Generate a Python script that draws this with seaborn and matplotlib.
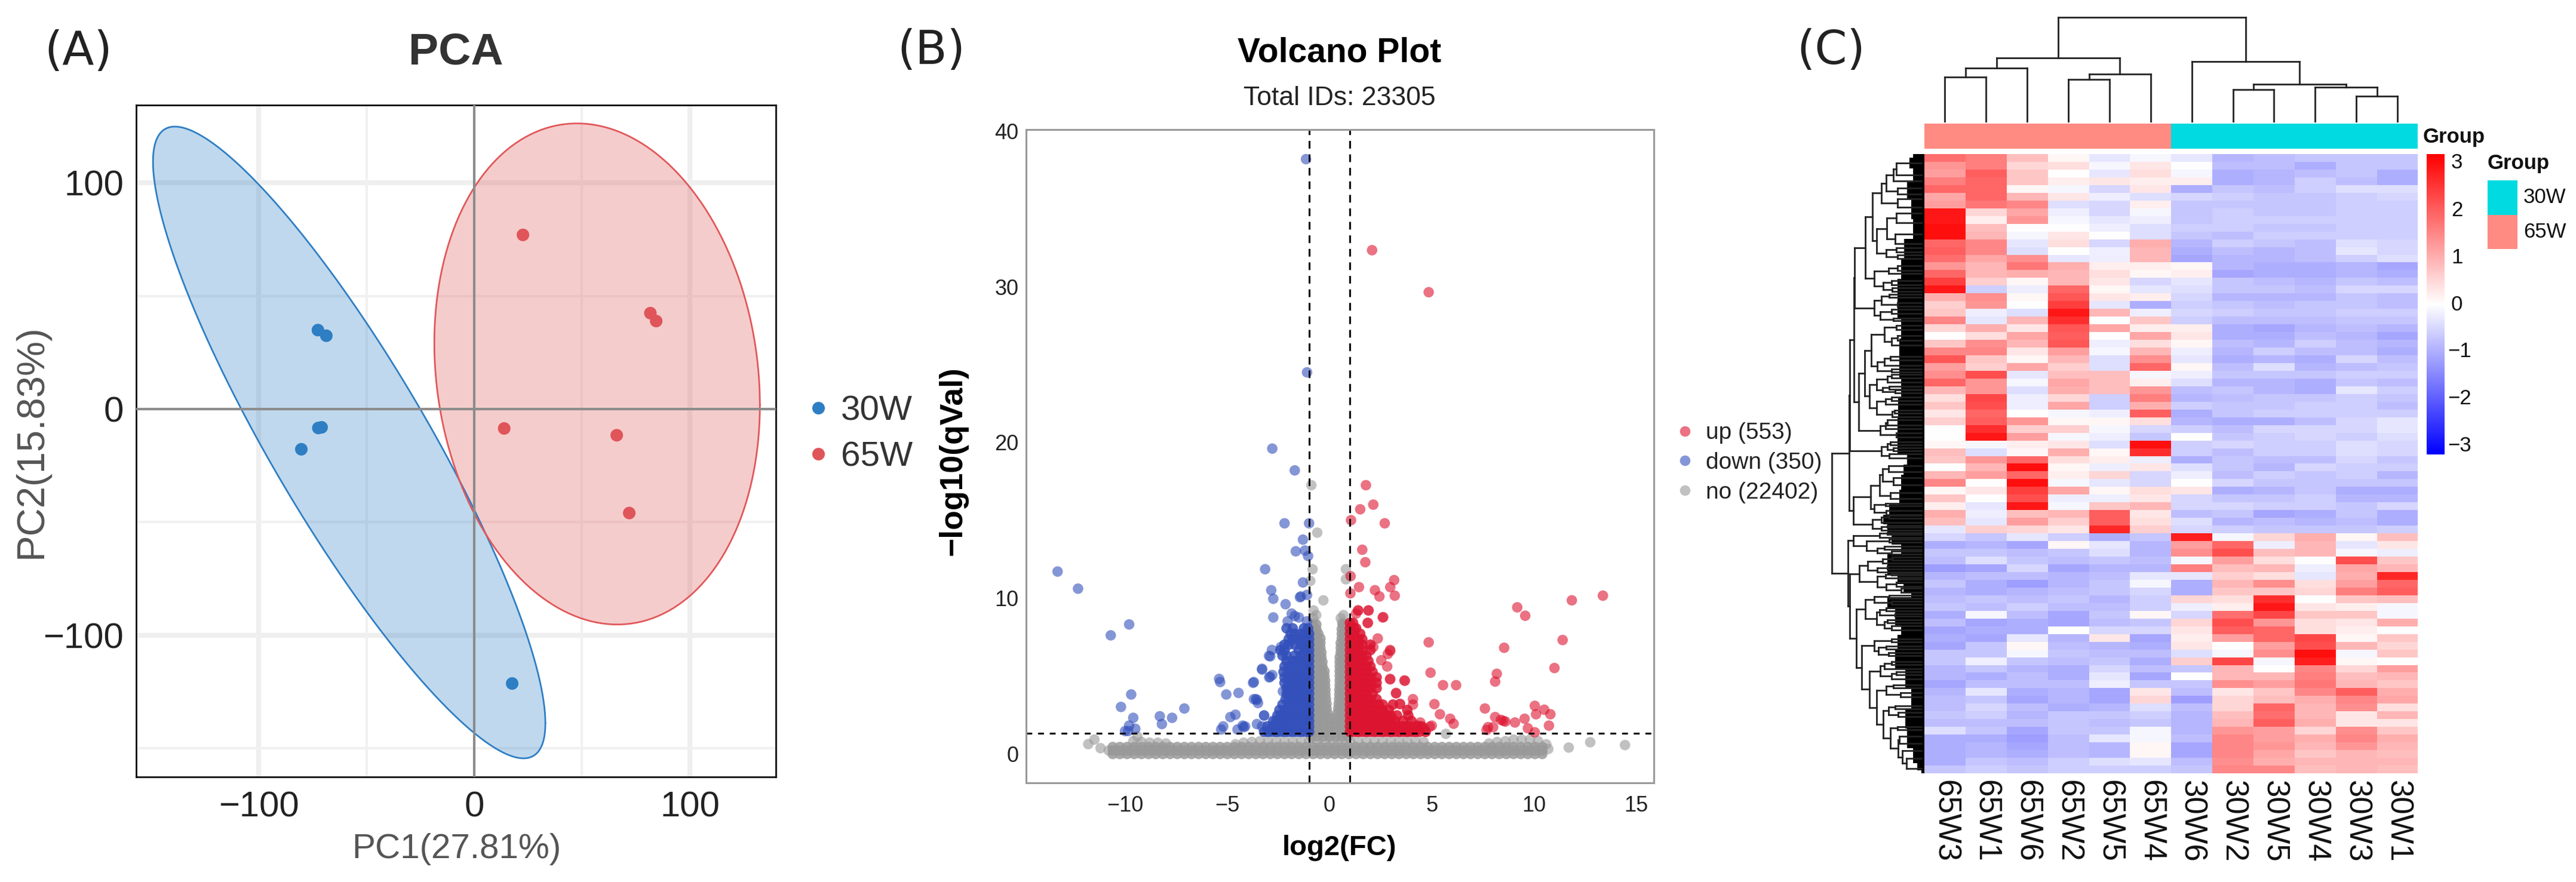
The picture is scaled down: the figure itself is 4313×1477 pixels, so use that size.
"""Three panel figure: PCA scatter, volcano plot and clustered heatmap."""

import matplotlib

matplotlib.use("Agg")
import matplotlib.pyplot as plt
import numpy as np
import pandas as pd
import seaborn as sns
from matplotlib.colors import LinearSegmentedColormap, ListedColormap

W, H = 4313, 1477
PLAIN = ["Liberation Sans"]

# ---- Panel A: PCA scores
pca_30w_x = [-72.5, -68.6, -72.3, -70.8, -80.2, 17.6]
pca_30w_y = [34.9, 32.4, -8.4, -8.1, -17.8, -121.4]
pca_65w_x = [22.6, 81.7, 84.4, 13.9, 66.1, 71.9]
pca_65w_y = [77.0, 42.4, 38.9, -8.6, -11.6, -46.0]
# centre x, half width, centre y, half height, phase between x and y (degrees)
ellipse_30w = [-58.0, 91.0, -14.8, 139.7, 152.7]
ellipse_65w = [57.0, 75.5, 15.5, 110.8, 97.1]

# ---- Panel B: volcano points
down_points = [
    (-13.3, 11.7), (-12.3, 10.6), (-10.7, 7.6), (-9.8, 8.3), (-9.7, 3.8), (-10.2, 3.0), (-9.6, 2.3),
    (-9.8, 1.8), (-9.5, 1.6), (-10.0, 1.45), (-9.85, 1.45), (-8.3, 2.4), (-8.2, 1.9), (-7.7, 2.3),
    (-7.1, 2.9), (-5.4, 4.8), (-5.35, 4.6), (-5.05, 3.8), (-4.45, 3.9), (-3.7, 4.6), (-5.3, 1.55),
    (-5.2, 1.75), (-4.85, 2.35), (-4.6, 2.5), (-4.5, 1.55), (-4.25, 1.8), (-4.2, 1.7), (-3.7, 3.5),
    (-3.55, 3.45), (-3.5, 3.25), (-3.3, 5.4), (-2.9, 6.25), (-2.8, 5.05), (-2.95, 4.9), (-3.2, 2.45),
    (-3.55, 1.9), (-3.3, 1.75), (-3.15, 11.85), (-2.85, 10.5), (-2.75, 9.95), (-2.8, 19.6), (-1.7, 18.2),
    (-2.2, 14.8), (-1.0, 14.8), (-1.3, 13.75), (-1.65, 13.0), (-1.2, 13.05), (-1.05, 12.7), (-1.3, 11.0),
    (-1.15, 38.2), (-1.1, 24.5), (-2.75, 8.75), (-2.15, 9.6), (-1.4, 10.1), (-1.1, 10.2), (-1.45, 10.05),
    (-2.05, 8.5), (-1.85, 9.0), (-1.5, 8.75), (-1.1, 8.5), (-1.7, 8.84), (-2.96, 6.28), (-2.82, 6.66),
    (-3.3, 5.45), (-2.91, 4.94), (-3.74, 4.55), (-3.6, 3.5), (-3.2, 2.45), (-4.13, 1.75), (-2.28, 4.0),
    (-2.38, 6.85),
]
down_rows_y = [1.4, 1.75, 2.1, 2.45, 2.8, 3.15, 3.5, 3.85, 4.2, 4.55, 4.9, 5.25, 5.6, 5.95, 6.3, 6.65, 7.0, 7.35, 7.7, 8.05]
down_rows_x = [
    [-1, -1.2, -1.4, -1.6, -1.8, -2, -2.2, -2.4, -2.6, -2.8, -3, -3.2],
    [-1, -1.2, -1.4, -1.6, -1.8, -2, -2.2, -2.4, -2.6, -2.8, -3.05],
    [-1, -1.2, -1.4, -1.6, -1.8, -2, -2.2, -2.4, -2.6, -2.75],
    [-1, -1.2, -1.4, -1.6, -1.8, -2, -2.2, -2.4, -2.55],
    [-1, -1.2, -1.4, -1.6, -1.8, -2, -2.2, -2.45],
    [-1, -1.2, -1.4, -1.6, -1.8, -2, -2.3],
    [-1, -1.2, -1.4, -1.6, -1.8, -2, -2.15],
    [-1, -1.2, -1.4, -1.6, -1.8, -2, -2.1],
    [-1, -1.2, -1.4, -1.6, -1.8, -2, -2.1],
    [-1, -1.2, -1.4, -1.6, -1.8, -2, -2.2],
    [-1, -1.2, -1.4, -1.6, -1.8, -2, -2.2],
    [-1, -1.2, -1.4, -1.6, -1.8, -2, -2.25],
    [-1, -1.2, -1.4, -1.6, -1.8, -2, -2.2],
    [-1, -1.2, -1.4, -1.6, -1.8, -2.1],
    [-1, -1.2, -1.4, -1.7, -2.1, -2.3],
    [-1, -1.2, -1.5, -2.2, -2.4],
    [-1, -1.2, -1.4, -1.7, -2, -2.2],
    [-1, -1.2, -1.4, -1.6, -1.8, -2],
    [-1, -1.2, -1.4, -1.7, -1.9],
    [-1.05, -1.25, -1.8, -2.1],
]
up_points = [
    (2.08, 32.35), (4.85, 29.65), (1.78, 17.25), (1.5, 15.7), (2.14, 16.0), (1.05, 15.0), (2.7, 14.8),
    (1.6, 13.1), (1.75, 12.3), (1.03, 11.4), (1.44, 10.7), (1.02, 10.3), (2.22, 10.5), (2.44, 10.1),
    (2.97, 10.7), (3.16, 11.15), (3.19, 10.15), (13.37, 10.15), (11.85, 9.85), (9.18, 9.4), (9.57, 8.86),
    (11.4, 7.3), (8.54, 6.8), (4.85, 7.15), (11.0, 5.5), (8.18, 5.13), (8.1, 4.63), (4.94, 5.2), (5.55, 4.4),
    (6.19, 4.4), (3.66, 4.7), (2.97, 4.77), (2.6, 8.75), (1.91, 9.2), (1.39, 9.2), (1.3, 9.0), (1.86, 8.4),
    (2.36, 7.4), (2.97, 6.6), (2.85, 6.4), (3.25, 3.87), (4.08, 3.5), (4.08, 3.15), (3.44, 3.18), (5.13, 3.18),
    (5.4, 2.53), (5.9, 2.24), (6.07, 1.92), (7.6, 2.9), (7.68, 1.52), (8.0, 1.7), (8.1, 2.35), (8.38, 2.17),
    (8.5, 2.1), (8.6, 2.06), (9.07, 2.0), (9.54, 2.24), (9.7, 1.63), (10.04, 1.37), (10.04, 3.07), (10.1, 2.53),
    (10.5, 2.82), (10.8, 2.53), (10.73, 1.8), (4.44, 2.0), (4.63, 1.63), (4.9, 1.73), (3.94, 1.45), (4.3, 1.8),
    (1.9, 9.2), (1.41, 9.2), (1.88, 8.4), (2.63, 8.77), (2.14, 6.85), (2.96, 6.66), (2.82, 5.6), (2.53, 6.0),
    (2.96, 4.8), (3.69, 4.68), (3.26, 3.9), (3.45, 3.2), (7.75, 1.7), (5.0, 1.8),
]
up_rows_y = [1.4, 1.75, 2.1, 2.45, 2.8, 3.15, 3.5, 3.85, 4.2, 4.55, 4.9, 5.25, 5.6, 5.95, 6.3, 6.65, 7.0, 7.35, 7.7, 8.05, 8.4]
up_rows_x = [
    [1, 1.2, 1.4, 1.6, 1.8, 2, 2.2, 2.4, 2.6, 2.8, 3, 3.2, 3.4, 3.6, 3.8, 4, 4.2, 4.4, 4.7],
    [1, 1.2, 1.4, 1.6, 1.8, 2, 2.2, 2.4, 2.6, 2.8, 3, 3.2, 3.4, 3.6, 3.8, 4, 4.3, 4.5],
    [1, 1.2, 1.4, 1.6, 1.8, 2, 2.2, 2.4, 2.6, 2.8, 3, 3.2, 3.6, 4.0],
    [1, 1.2, 1.4, 1.6, 1.8, 2, 2.2, 2.4, 2.6, 2.8, 3, 3.3, 3.85],
    [1, 1.2, 1.4, 1.6, 1.8, 2, 2.2, 2.4, 2.6, 2.9, 3.8],
    [1, 1.2, 1.4, 1.6, 1.8, 2, 2.2, 2.4, 2.6, 3.1],
    [1, 1.2, 1.4, 1.6, 1.8, 2, 2.3],
    [1, 1.2, 1.4, 1.6, 1.8, 2.1],
    [1, 1.2, 1.4, 1.6, 1.8, 2, 2.3],
    [1, 1.2, 1.4, 1.6, 1.8, 2, 2.3],
    [1, 1.2, 1.4, 1.6, 1.8, 2, 2.3],
    [1, 1.2, 1.4, 1.6, 1.8, 2.1],
    [1, 1.2, 1.4, 1.6, 1.8, 2],
    [1, 1.2, 1.4, 1.6, 1.9],
    [1, 1.2, 1.4, 1.6, 1.8],
    [1, 1.2, 1.4, 1.6, 2],
    [1, 1.2, 1.4, 1.6, 2],
    [1, 1.2, 1.4, 1.6],
    [1, 1.2, 1.5],
    [1, 1.2, 1.3],
    [1, 1.15],
]
no_band_x = [
    -10.6, -10.25, -9.9, -9.55, -9.2, -8.85, -8.5, -8.15, -7.8, -7.45, -7.1, -6.75, -6.4, -6.05, -5.7,
    -5.35, -5, -4.65, -4.3, -3.95, -3.6, -3.25, -2.9, -2.55, -2.2, -1.85, -1.5, -1.15, -0.8, -0.45, -0.1,
    0.25, 0.6, 0.95, 1.3, 1.65, 2, 2.35, 2.7, 3.05, 3.4, 3.75, 4.1, 4.45, 4.8, 5.15, 5.5, 5.85, 6.2,
    6.55, 6.9, 7.25, 7.6, 7.95, 8.3, 8.65, 9, 9.35, 9.7, 10.05, 10.4,
]
no_band_y = [-0.02, 0.2, 0.42]
no_top_row = [
    (-9.6, 0.8), (-9.2, 0.75), (-8.8, 0.7), (-8.4, 0.7), (-8, 0.65), (-4.6, 0.6), (-4.2, 0.7), (-3.8, 0.75),
    (-3.4, 0.8), (-3, 0.8), (-2.6, 0.8), (-2.2, 0.8), (-1.8, 0.8), (-1.4, 0.8), (-1, 0.8), (-0.6, 0.8),
    (-0.2, 0.8), (0.2, 0.8), (0.6, 0.8), (1, 0.8), (1.4, 0.8), (1.8, 0.8), (2.2, 0.8), (2.6, 0.8), (3, 0.8),
    (3.4, 0.8), (3.8, 0.8), (4.2, 0.8), (4.6, 0.75), (7.8, 0.65), (8.2, 0.75), (8.6, 0.8), (9, 0.9), (9.4, 0.9),
    (9.8, 0.9), (10.2, 0.8), (-10.8, 0.2), (10.6, 0.6), (10.7, 0.3),
]
no_points = [
    (-11.8, 0.61), (-11.5, 0.9), (-11.2, 0.35), (-9.4, 1.1), (11.7, 0.39), (12.75, 0.73), (14.45, 0.55), (5.69, 1.27),
    (-0.89, 17.25), (-0.6, 14.2), (-0.83, 11.85), (-0.94, 11.1), (0.8, 11.85), (0.8, 11.2), (-0.3, 9.85),
    (-0.78, 9.2), (-0.65, 8.9), (-0.8, 8.7), (0.55, 8.7), (0.68, 8.9), (0.62, 8.4),
]
no_rows_y = [1.1, 1.4, 1.7, 2.0, 2.3, 2.6, 2.9, 3.2, 3.5, 3.8, 4.1, 4.4, 4.7, 5.0, 5.3, 5.6, 5.9, 6.2, 6.5, 6.8, 7.1, 7.4, 7.7, 8.0, 8.3]
no_rows_x = [
    [-0.9, -0.6, -0.3, 0, 0.3, 0.6, 0.9],
    [-0.9, -0.6, -0.3, 0, 0.3, 0.6, 0.9],
    [-0.9, -0.6, -0.3, 0, 0.3, 0.6, 0.9],
    [-0.9, -0.6, -0.3, 0, 0.3, 0.6, 0.9],
    [-0.9, -0.6, -0.3, -0.05, 0.35, 0.6, 0.9],
    [-0.9, -0.6, -0.3, -0.1, 0.4, 0.65, 0.9],
    [-0.9, -0.65, -0.4, -0.15, 0.43, 0.65, 0.9],
    [-0.9, -0.65, -0.4, -0.15, 0.45, 0.65, 0.9],
    [-0.9, -0.65, -0.4, -0.18, 0.47, 0.65, 0.9],
    [-0.9, -0.65, -0.4, -0.2, 0.48, 0.65, 0.9],
    [-0.9, -0.65, -0.4, -0.2, 0.48, 0.65, 0.9],
    [-0.9, -0.65, -0.4, -0.22, 0.5, 0.7, 0.9],
    [-0.9, -0.65, -0.4, -0.22, 0.5, 0.7, 0.9],
    [-0.9, -0.65, -0.4, -0.25, 0.5, 0.7, 0.9],
    [-0.9, -0.65, -0.4, -0.25, 0.5, 0.7, 0.9],
    [-0.9, -0.65, -0.35, 0.5, 0.7, 0.9],
    [-0.9, -0.65, -0.35, 0.5, 0.7, 0.9],
    [-0.9, -0.7, -0.4, 0.5, 0.7, 0.9],
    [-0.9, -0.7, -0.4, 0.55, 0.75],
    [-0.9, -0.7, -0.45, 0.55, 0.75],
    [-0.9, -0.7, -0.45, 0.55, 0.75],
    [-0.9, -0.7, -0.45, 0.6, 0.75],
    [-0.9, -0.7, -0.55, 0.6, 0.75],
    [-0.85, -0.65, 0.6, 0.75],
    [-0.8, -0.65, 0.65, 0.75],
]
regulation_labels = ["up (553)", "down (350)", "no (22402)"]

# ---- Panel C: heatmap, rows top to bottom
col_names = ["65W3", "65W1", "65W6", "65W2", "65W5", "65W4", "30W6", "30W2", "30W5", "30W4", "30W3", "30W1"]
col_group = [1, 1, 1, 1, 1, 1, 0, 0, 0, 0, 0, 0]
heat_rows = [
    [1.8, 1.6, .8, .1, -.3, -.1, -.3, -.9, -.8, -.7, -.7, -.7],
    [1.3, 1.6, .5, .4, -.1, .3, 0, -.8, -.8, -1, -.7, -.7],
    [1.2, 2.0, .7, 0, -.3, .4, -.1, -1.0, -.9, -.8, -.7, -1.0],
    [1.6, 1.9, .7, .2, .3, .2, .2, -1.0, -.9, -.6, -.8, -1.0],
    [1.9, 1.9, .1, -.1, -.5, .3, -1.0, -.7, -.8, -.6, -.4, -.4],
    [1.1, 1.9, .9, .3, -.2, -.4, -.5, -.6, -.7, -.7, -.6, -.5],
    [1.2, 1.7, 1.5, -.4, -.5, .2, -.7, -.7, -.7, -.7, -.6, -.6],
    [2.9, .5, 1.1, -.2, -.5, -.1, -.7, -.6, -.7, -.7, -.6, -.6],
    [2.9, .2, 1.3, -.1, -.3, -.2, -.7, -.6, -.6, -.6, -.6, -.6],
    [3, .8, 0, 0, -.2, -.4, -.6, -.6, -.7, -.7, -.6, -.6],
    [3, .9, -.1, .3, 0, -.4, -.7, -.8, -.6, -.6, -.6, -.6],
    [1.9, 1.5, -.3, .4, -.5, 1.0, -.9, -.6, -.7, -.8, -.4, -.5],
    [2, 1.5, -.4, 0, -.2, .9, -1.0, -.8, -.9, -.8, -.3, -.5],
    [1.8, 1.1, 1.4, -.3, -.2, .9, -1.1, -.9, -.9, -.8, -.6, -.4],
    [1.3, .9, 1.7, 1.0, .2, .2, .1, -.9, -1, -1, -.9, -1.1],
    [1.9, .9, 1, .9, .4, .1, .2, -1.1, -1, -1, -.9, -1],
    [2.4, .6, .1, .9, .3, -.5, -.3, -.7, -.8, -.9, -.7, -.8],
    [2.9, -.6, -.2, 1.9, .1, -.3, -.4, -.7, -.7, -.8, -.5, -.5],
    [1.0, 1.4, .1, 2.1, .3, .2, -.5, -.9, -.9, -.9, -.7, -.8],
    [.6, 1.3, 0, 2.4, -.3, -1, -.6, -.7, -.8, -.7, -.7, -.8],
    [.7, -.2, -.4, 2.9, .9, -.2, -.5, -.6, -.7, -.7, -.6, -.6],
    [1.5, -.3, .9, 2.6, 0, .7, -.6, -.8, -.8, -.8, -.7, -.7],
    [.5, 1, .3, 2.1, 1.1, .2, .2, -1, -1.1, -.9, -.8, -.9],
    [0, .4, 1.1, 2.0, 0, 1.1, .3, -1, -1, -.8, -.9, -1.1],
    [.7, 1.4, .9, 2.1, -.2, .4, .1, -.8, -.9, -.6, -.8, -.9],
    [1.5, 1.5, .3, 1.2, -.1, .9, -.2, -.9, -.6, -.8, -.8, -1.0],
    [2.1, .7, .1, .9, -.4, 1.4, -.3, -1.0, -.9, -1.0, -.5, -.8],
    [1.2, .6, 1.1, .6, -.4, 1.9, .1, -.8, -.4, -.9, -.8, -.7],
    [1.4, 2.2, -.3, .8, .8, -.1, -.2, -.7, -.7, -.7, -.6, -.6],
    [1.9, 1.3, -.1, 1.1, .8, .2, -.4, -.9, -.9, -1, -.7, -.8],
    [.9, 1.3, -.4, 1, .8, 1.3, -.8, -.7, -.9, -1, -.3, -.6],
    [.4, 2.3, -.2, .5, -.6, 1.6, -.9, -.8, -.7, -.7, -.6, -.7],
    [.7, 2.2, -.2, 1.1, -.6, 1, -.6, -.7, -.7, -.6, -.6, -.8],
    [.3, 1.9, 0, -.1, -.2, 2, -1, -.7, -.6, -.6, -.6, -.6],
    [.6, 2.0, 1.3, .1, .1, .4, -.9, -1, -1, -.8, -.5, -.3],
    [0, 2.6, .6, .6, -.1, -.5, -.6, -.8, -.5, -.5, -.5, -.3],
    [0, 2.9, 1.2, -.1, -.2, -.7, 0, -.7, -.6, -.5, -.6, -.4],
    [.1, -.1, .2, .3, -.4, 3, -.6, -.5, -.6, -.6, -.4, -.5],
    [.8, -.4, .1, 1, .1, 2.6, -.6, -.8, -.6, -.6, -.4, -.5],
    [.7, 1.3, 1.9, .4, .2, -.2, -1, -.7, -.8, -.8, -.5, -.7],
    [0, .9, 3, .1, -.2, .3, -.4, -.7, -.9, -.5, -.6, -.6],
    [.9, 1.2, 1.9, .2, .5, -.5, -.2, -.8, -.6, -.7, -.6, -.9],
    [1.5, 0, 3, -.1, -.3, -.5, 0, -.5, -.7, -.7, -.7, -.7],
    [.1, .3, 2.4, 1.1, .1, .4, .3, -1, -.9, -.7, -1, -1],
    [.7, 0, 2.2, -.2, -.2, .3, -.5, -.7, -.7, -.6, -.9, -.9],
    [.2, -.3, 2.9, -.1, .7, .9, -.5, -.5, -.6, -.6, -.7, -.5],
    [1, -.2, .8, .9, 2, .3, -.8, -.7, -1.1, -1, -.7, -1],
    [.8, -.3, 1.2, .6, 2, .4, -.4, -.9, -.8, -.9, -.8, -1],
    [-.3, .6, .5, .3, 2.7, .6, -.5, -.6, -.7, -.7, -.7, -.6],
    [-.5, -.7, -.3, -.6, -1, -.7, 2.8, -.1, .5, 1, .1, .8],
    [-1, -.9, -1.1, .1, -.3, -.9, 1.2, 1.9, -.2, .9, -.3, .3],
    [-.7, -.7, -.8, -.7, -.4, -.9, 1.4, 2.2, .8, .9, -.1, -.2],
    [-.8, -.4, -.7, -.8, -.7, -.8, -.1, 1.2, .4, 0, 2.2, .7],
    [-1.2, -1.1, -.5, -1.1, -.9, -.9, 1.6, .8, .9, -.2, 1.1, .9],
    [-.9, -.8, -.8, -.9, -.8, -.3, -.3, .6, .4, -.3, 1, 2.7],
    [-.7, -1, -1.2, -.9, -.7, -.1, -1.0, .9, 1.4, .4, 1.2, 1.9],
    [-.9, -1, -.9, -.8, -.7, -.5, -1, .7, .7, .5, 1.6, 2],
    [-.8, -.7, -.8, -.7, -.9, -.6, .5, .4, 2.6, 0, .7, .8],
    [-.7, -.8, -.6, -.8, -.8, -.6, -.2, .2, 2.9, .3, .2, -.1],
    [-1, -.1, -.8, -1.1, -.7, .1, -.5, 1.8, 2.3, .7, .7, -.1],
    [-.8, -1.1, -1, -1.1, -.8, -.7, .5, 2.2, 1.3, .4, .3, 1],
    [-1.1, -1, -1, 0, -.5, -.5, .3, 2, 1.9, .4, .2, 0],
    [-1, -1.1, -.3, -.9, .3, -1.1, .2, 1.2, 1.9, 2.3, .1, .7],
    [-1.1, -.7, .1, -.8, -.9, -1, .3, 0, 1.2, 2.2, .9, .5],
    [-.7, -.7, -.1, -.7, -.8, -.8, -.4, -.1, 1.4, 3, -.1, .7],
    [-.7, -.2, -.7, -.8, -.7, -1, .6, 2.3, -.1, 2.8, .1, 0],
    [-.9, -.7, -.9, -1, -.5, -.8, -.7, .9, 0, 1.5, .5, 1.2],
    [-.9, -1, -.8, -1, -.3, -1.1, 0, .9, .9, 1.6, .8, .9],
    [-1.1, -.8, -.8, -.8, -.2, -.7, -.7, 1.4, 1.2, 1.7, .9, .7],
    [-.9, -.3, -1, -.9, -1.1, .3, -.8, .3, .7, 1.5, 2, 1],
    [-.8, -.7, -1.1, -.9, -1.1, .5, -1.2, .5, .8, 1, 1.5, 1.1],
    [-.8, -.5, -.8, -1, -.9, -.4, -.8, .5, 1.9, .9, 1.4, .4],
    [-.7, -.6, -.9, -.7, -.7, -.6, -.9, .8, 1.8, .9, .3, .9],
    [-.8, -.8, -.8, -.7, -.8, -.7, -.9, .9, 2, 1, .3, .3],
    [-.4, -.7, -1.1, -.7, -.7, -.1, -.9, 1.3, 1.2, .5, 1.4, .7],
    [-1, -1, -1.2, -.8, -.3, -.1, -.8, 1.5, 1.2, 1, 1.5, 1],
    [-1, -.9, -1.1, -.8, -.9, .1, -1.1, 1.5, 1.3, .9, 1.3, .9],
    [-1, -.9, -1, -.8, -.9, .1, -1.1, 1.5, 1.1, .7, .9, .8],
    [-1, -.7, -.8, -.6, -.4, -.3, -.8, 1.4, 1, .9, .9, .9],
    [-.7, -.6, -.7, -.6, -.6, -.6, -.7, 1.5, 1.5, .8, .9, .8],
]
cbar_ticks = [3, 2, 1, 0, -1, -2, -3]

# Trees: a node is [height, first child, second child], a bare number is a leaf position
col_tree = [187,
    [115, [97, [81, 0.5, 1.5], 2.5], [86, [77, 3.5, 4.5], 5.5]],
    [108, 6.5, [68, [58, 7.5, 8.5], [63, 9.5, [47, 10.5, 11.5]]]],
]
row_a1 = [190,
    [225,
        [270, [295, [330, [345, 70, 130], 160], [350, 195, 225]], [350, 250, 290]],
        [245, [298, [345, 320, 370], [340, 425, 475]], [295, [345, 495, 515], [350, 530, 550]]]],
    [235, [305, [350, 585, 610], 625], [280, [320, 660, 680], [325, 695, 715]]],
]
row_a2 = [235,
    [270, [310, 730, 745], [350, 770, 790]],
    [265, [320, 805, 825], [330, 850, 860]],
]
row_a3 = [185,
    [220,
        [285, [345, 885, 905], [320, [350, 935, 960], 985]],
        [250, [285, [315, 1040, 1060], 1085], [320, 1105, 1120]]],
    [210,
        [245, [300, [320, 1130, 1150], 1170], [275, [310, 1190, 1205], [340, 1210, 1225]]],
        [245, [290, [320, 1245, 1262], 1280], [325, [335, 1310, 1325], 1345]]],
]
row_a4 = [265, [290, [300, 1360, 1385], 1405], [345, 1425, 1445]]
row_a5 = [270, [300, [315, 1470, 1485], [330, 1500, 1515]], [310, 1530, 1550]]
row_b = [130,
    [215,
        [260, [275, [305, 1590, 1620], [330, 1650, 1685]], [315, 1725, 1755]],
        [235, [290, 1780, 1790], [295, 1815, 1835]]],
    [225, [270, [310, 1840, 1855], 1875], [270, [300, 1890, 1900], 1915]],
]
row_l1 = [130,
    [260, [300, 1925, 1935], 1950],
    [195, [310, 1960, 1975], [250, [285, 1995, 2010], [320, 2020, 2035]]],
]
row_l2 = [160,
    [200, [275, [325, 2050, 2065], 2080], [250, [300, 2095, 2110], 2125]],
    [250, [290, [320, 2130, 2140], [360, 2150, 2160]], [295, [345, 2175, 2195], [370, 2205, 2225]]],
]
row_l3 = [190,
    [235, [310, 2240, 2255], [320, 2270, 2285]],
    [245, [260, [295, 2305, 2320], [340, 2335, 2345]], [285, [300, 2365, 2380], [320, 2395, 2415]]],
]
row_l4 = [170,
    [235, [320, 2460, 2475], [255, [295, 2495, 2510], [305, 2530, 2545]]],
    [210,
        [265, [285, [320, 2575, 2590], 2610], [320, [345, 2625, 2640], 2660]],
        [245,
            [295, [330, 2690, 2705], [365, 2730, 2750]],
            [280,
                [305, [340, 2795, 2810], [355, 2830, 2850]],
                [315, [350, 2900, 2915], [355, [360, 2950, 2985], [375, 3020, [395, 3060, 3110]]]]]]],
]
row_tree = [20,
    [107, [110, [133, [135, row_a1, row_a2], [155, row_a3, row_a4]], row_a5], row_b],
    [103, row_l1, [112, row_l2, [145, row_l3, row_l4]]],
]
# Edge of the solid black comb of leaves next to the heatmap
comb_pos = [24, 60, 130, 200, 300, 400, 500, 600, 700, 800, 900, 1000, 1100, 1200, 1300, 1400, 1500, 1560, 1610,
            1660, 1760, 1810, 1860, 1910, 1960, 2010, 2060, 2110, 2160, 2210, 2240, 2260, 2360, 2420, 2460, 2560,
            2660, 2760, 2860, 2960, 3060, 3105, 3135]
comb_edge = [430, 410, 430, 400, 420, 430, 385, 370, 350, 350, 370, 360, 360, 370, 355, 350, 350, 400, 380, 370,
             360, 310, 280, 300, 320, 370, 300, 300, 350, 380, 420, 300, 340, 370, 350, 340, 390, 420, 390, 400,
             430, 450, 470]


def px_axes(left, top, right, bottom):
    """Add an axes given by its edges in pixels of the final image."""
    return fig.add_axes([left / W, 1 - bottom / H, (right - left) / W, (bottom - top) / H])


def put(x, y, text, **kwargs):
    """Figure text at a pixel position, centred unless told otherwise."""
    kwargs.setdefault("ha", "center")
    kwargs.setdefault("va", "center")
    fig.text(x / W, 1 - y / H, text, **kwargs)


def pairs_frame(points, group):
    return pd.DataFrame(points, columns=["x", "y"]).assign(group=group)


def rows_frame(rows_y, rows_x, group):
    pairs = [(x, y) for y, xs in zip(rows_y, rows_x) for x in xs]
    return pairs_frame(pairs, group)


def ellipse_outline(params):
    cx, a, cy, b, phase = params
    t = np.radians(np.arange(0, 361, 2))
    return cx + a * np.cos(t), cy + b * np.cos(t + np.radians(phase))


def draw_tree(ax, node, horizontal, leaf_end):
    """Draw a nested tree as brackets and return the position of its stem."""
    if not isinstance(node, list):
        return node
    height, first, second = node
    spots = []
    for child in (first, second):
        pos = draw_tree(ax, child, horizontal, leaf_end)
        end = child[0] if isinstance(child, list) else leaf_end
        if horizontal:
            ax.plot([pos, pos], [height, end], **TREE_LINE)
        else:
            ax.plot([height, end], [pos, pos], **TREE_LINE)
        spots.append(pos)
    if horizontal:
        ax.plot(spots, [height, height], **TREE_LINE)
    else:
        ax.plot([height, height], spots, **TREE_LINE)
    return sum(spots) / 2


sns.set_theme(style="white")
plt.rcParams["font.family"] = PLAIN
TREE_LINE = dict(color="#222222", lw=2.0, solid_capstyle="projecting")

fig = plt.figure(figsize=(W / 100, H / 100), dpi=100, facecolor="white")

# ---- (A) PCA
ax_pca = px_axes(228, 176, 1299, 1301)
ax_pca.set_xlim(-156.8, 139.9)
ax_pca.set_ylim(-162.7, 134.4)
ax_pca.set_axisbelow(True)
for v in [-100, 100]:
    ax_pca.axvline(v, color="#EFEFEF", lw=6, zorder=0)
    ax_pca.axhline(v, color="#EFEFEF", lw=6, zorder=0)
for v in [-50, 50]:
    ax_pca.axvline(v, color="#F1F1F1", lw=3, zorder=0)
    ax_pca.axhline(v, color="#F1F1F1", lw=3, zorder=0)
ax_pca.axhline(-150, color="#F1F1F1", lw=3, zorder=0)
for params, color in [(ellipse_30w, "#2E7EC4"), (ellipse_65w, "#E15759")]:
    ex, ey = ellipse_outline(params)
    ax_pca.fill(ex, ey, color=color, alpha=0.3, lw=0, zorder=1)
    ax_pca.plot(ex, ey, color=color, lw=2.0, zorder=2)
ax_pca.axvline(0, color="#8C8C8C", lw=3, zorder=3)
ax_pca.axhline(0, color="#8C8C8C", lw=3, zorder=3)
pca_df = pd.DataFrame({
    "PC1": pca_30w_x + pca_65w_x,
    "PC2": pca_30w_y + pca_65w_y,
    "Group": ["30W"] * len(pca_30w_x) + ["65W"] * len(pca_65w_x),
})
sns.scatterplot(data=pca_df, x="PC1", y="PC2", hue="Group", palette=["#2E7EC4", "#E0555A"],
                s=230, linewidth=0, ax=ax_pca, zorder=4)
sns.move_legend(ax_pca, "center left", bbox_to_anchor=(1300 / W, 1 - 727 / H), bbox_transform=fig.transFigure,
                frameon=False, title=None, fontsize=42, labelspacing=0.4, handlelength=0.6, handletextpad=0.35)
for label in ax_pca.get_legend().get_texts():
    label.set_color("#333333")
ax_pca.set_xticks([-100, 0, 100])
ax_pca.set_yticks([-100, 0, 100])
ax_pca.set_xlabel("")
ax_pca.set_ylabel("")
ax_pca.tick_params(axis="x", length=0, pad=17, labelsize=43, labelcolor="#222222")
ax_pca.tick_params(axis="y", length=0, pad=15, labelsize=43, labelcolor="#222222")
for spine in ax_pca.spines.values():
    spine.set_color("black")
    spine.set_linewidth(1.9)
put(131, 87, "(A)", family="DejaVu Sans", fontsize=56, color="#222222")
put(763, 88, "PCA", fontsize=54, weight="bold", color="#333333")
put(764, 1422, "PC1(27.81%)", fontsize=42, color="#555555")
put(53, 739, "PC2(15.83%)", fontsize=47, color="#555555", rotation=90)

# ---- (B) Volcano
no_band = pd.DataFrame([(x, y) for y in no_band_y for x in no_band_x], columns=["x", "y"]).assign(group=regulation_labels[2])
no_rows = rows_frame(no_rows_y, no_rows_x, regulation_labels[2])
down_rows = rows_frame(down_rows_y, down_rows_x, regulation_labels[1])
up_rows = rows_frame(up_rows_y, up_rows_x, regulation_labels[0])
# The dense clouds stand for thousands of IDs, so they go in twice to saturate like the original
volcano = pd.concat([
    no_band, no_band, pairs_frame(no_top_row, regulation_labels[2]), no_rows, no_rows,
    pairs_frame(no_points, regulation_labels[2]),
    down_rows, down_rows, pairs_frame(down_points, regulation_labels[1]),
    up_rows, up_rows, pairs_frame(up_points, regulation_labels[0]),
], ignore_index=True)

ax_vol = px_axes(1718, 217, 2769, 1311)
sns.scatterplot(data=volcano, x="x", y="y", hue="group", hue_order=regulation_labels,
                palette=["#DC1430", "#3350BB", "#999999"], s=160, alpha=0.6, linewidth=0, ax=ax_vol)
ax_vol.set_xlim(-14.84, 15.86)
ax_vol.set_ylim(-1.88, 40.1)
for xv in [-1, 1]:
    ax_vol.axvline(xv, color="black", lw=2.2, dashes=(4.2, 3.2))
ax_vol.axhline(1.3, color="black", lw=2.2, dashes=(3.2, 3.2))
sns.move_legend(ax_vol, "center left", bbox_to_anchor=(2770 / W, 1 - 775 / H), bbox_transform=fig.transFigure,
                frameon=False, title=None, fontsize=28, labelspacing=0.35, handlelength=0.8, handletextpad=0.5)
for label in ax_vol.get_legend().get_texts():
    label.set_color("#222222")
ax_vol.set_xticks([-10, -5, 0, 5, 10, 15])
ax_vol.set_yticks([0, 10, 20, 30, 40])
ax_vol.set_xlabel("")
ax_vol.set_ylabel("")
ax_vol.tick_params(axis="x", length=0, pad=15, labelsize=26, labelcolor="#222222")
ax_vol.tick_params(axis="y", length=0, pad=9, labelsize=26, labelcolor="#222222")
for spine in ax_vol.spines.values():
    spine.set_color("#999999")
    spine.set_linewidth(2.2)
put(1559, 85, "(B)", family="DejaVu Sans", fontsize=56, color="#222222")
put(2243, 88, "Volcano Plot", fontsize=41, weight="bold", color="black")
put(2243, 165, "Total IDs: 23305", fontsize=32, color="#222222")
put(2243, 1420, "log2(FC)", fontsize=34, weight="bold", color="black")
put(1596, 772, "\u2212log10(qVal)", fontsize=38.5, weight="bold", color="black", rotation=90)

# ---- (C) Heatmap
heat_df = pd.DataFrame(heat_rows, columns=col_names)
heat_cmap = LinearSegmentedColormap.from_list("bwr_heat", ["#0000FF", "#FFFFFF", "#FF0000"])
group_cmap = ListedColormap(["#00DAE0", "#FF8B83"])

ax_heat = px_axes(3222, 258, 4048.5, 1295)
ax_cbar = px_axes(4063, 258, 4093, 761)
sns.heatmap(heat_df, cmap=heat_cmap, vmin=-3.18, vmax=3.18, ax=ax_heat, cbar_ax=ax_cbar, yticklabels=False,
            xticklabels=col_names, cbar_kws={"ticks": []})
ax_heat.tick_params(axis="x", length=0, pad=8, labelsize=38, labelrotation=-90, labelcolor="#111111")
ax_heat.set_ylabel("")
for tick in cbar_ticks:
    put(4104 if tick >= 0 else 4098, 273 + (3 - tick) * 79, str(tick).replace("-", "\u2212"), ha="left",
        fontsize=25, color="#111111")

ax_group = px_axes(3222, 207, 4048.5, 249)
sns.heatmap([col_group], cmap=group_cmap, vmin=0, vmax=1, cbar=False, ax=ax_group, xticklabels=False, yticklabels=False)
put(4057, 230, "Group", ha="left", fontsize=25, weight="bold", color="#111111")

ax_key = px_axes(4165, 302, 4215, 417)
sns.heatmap([[0], [1]], cmap=group_cmap, vmin=0, vmax=1, cbar=False, ax=ax_key, xticklabels=False, yticklabels=False)
put(4165, 273, "Group", ha="left", fontsize=25, weight="bold", color="#111111")
put(4225, 330, "30W", ha="left", fontsize=25, color="#111111")
put(4225, 388, "65W", ha="left", fontsize=25, color="#111111")

ax_top = px_axes(3222, 28, 4048.5, 205)
ax_top.set_xlim(0, 12)
ax_top.set_ylim(0, 188)
draw_tree(ax_top, col_tree, True, 0)
ax_top.axis("off")

ax_side = px_axes(3060, 258, 3222, 1295)
ax_side.set_xlim(0, 486)
ax_side.set_ylim(3135, 24)
ax_side.fill_betweenx(comb_pos, comb_edge, 486, step="mid", color="black", lw=0)
draw_tree(ax_side, row_tree, False, 470)
ax_side.axis("off")
put(3066, 85, "(C)", family="DejaVu Sans", fontsize=56, color="#222222")

fig.savefig("out.png", dpi=100)
